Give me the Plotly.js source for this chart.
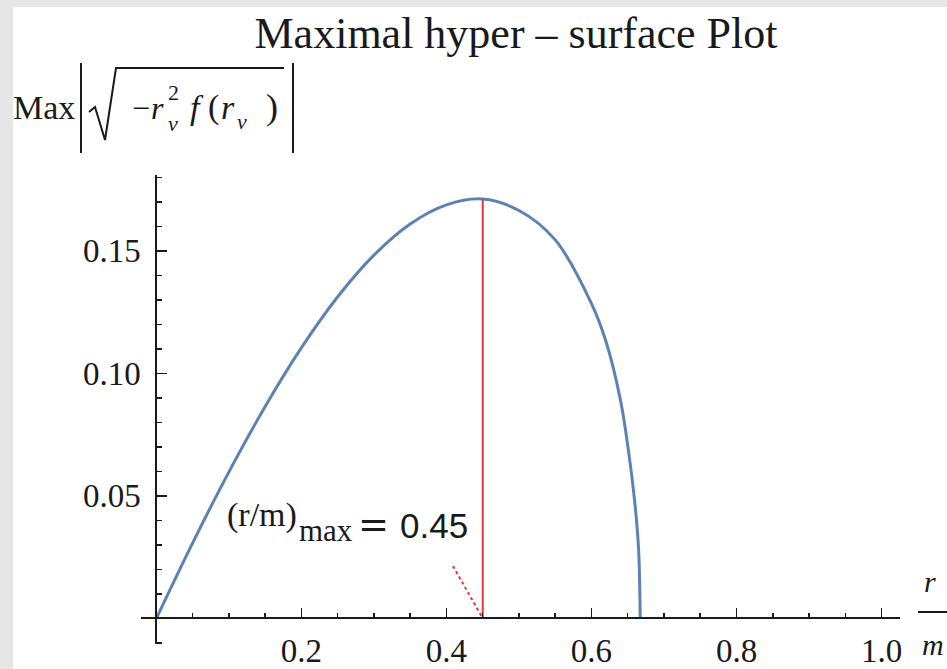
<!DOCTYPE html>
<html><head><meta charset="utf-8">
<script src="https://cdn.plot.ly/plotly-3.0.1.min.js"></script>
<style>html,body{margin:0;padding:0;background:#fff;} #chart{width:947px;height:669px;}</style>
</head><body><div id="chart"></div>
<script>
// ---- data ----
const rValues = [0, 0.05, 0.10, 0.15, 0.20, 0.25, 0.30, 0.35, 0.40, 0.45, 0.50, 0.55, 0.60, 0.62, 0.64, 0.65, 0.66, 0.665, 0.6672];
const surfaceValues = [0, 0.0308, 0.0598, 0.0865, 0.1105, 0.1313, 0.1483, 0.1610, 0.1688, 0.1712, 0.1665, 0.1545, 0.1285, 0.1130, 0.0890, 0.0705, 0.0465, 0.0280, 0];
const rMax = 0.45;
const rMaxPeak = 0.1712;
const pointerX = [0.409, 0.45];
const pointerY = [0.0213, 0];
const xTickVals = [0.2, 0.4, 0.6, 0.8, 1.0];
const xTickText = ['0.2', '0.4', '0.6', '0.8', '1.0'];
const yTickVals = [0.05, 0.10, 0.15];
const yTickText = ['0.05', '0.10', '0.15'];
const xRange = [-0.0213, 1.0255];
const yRange = [-0.0105, 0.181];

// ---- layout helpers (pixel -> paper) ----
const W = 947, H = 669, L = 141, R = 900, T = 175, B = 644;
const px = v => (v - L) / (R - L);
const py = v => (B - v) / (B - T);
const SERIF = 'Liberation Serif, Times New Roman, serif';
const SANS = 'Liberation Sans, Arial, sans-serif';
const INK = '#1a1a1a';

function txt(text, x, baseline, size, opts) {
  opts = opts || {};
  return {
    text: text, xref: 'paper', yref: 'paper',
    x: px(x), y: py(baseline - 0.34 * size),
    xanchor: opts.xanchor || 'left', yanchor: 'middle',
    showarrow: false, borderpad: 0,
    font: {family: opts.family || SERIF, size: size, color: opts.color || INK}
  };
}
function seg(x0, y0, x1, y1, w, color) {
  return {type: 'line', xref: 'paper', yref: 'paper', x0: px(x0), y0: py(y0), x1: px(x1), y1: py(y1),
    line: {color: color || INK, width: w || 2}};
}
function pathShape(pts, w) {
  const d = pts.map((p, i) => (i ? 'L' : 'M') + px(p[0]) + ',' + py(p[1])).join(' ');
  return {type: 'path', xref: 'paper', yref: 'paper', path: d, line: {color: INK, width: w || 2}};
}
function rect(x0, y0, x1, y1, color) {
  return {type: 'rect', xref: 'paper', yref: 'paper', x0: px(x0), y0: py(y0), x1: px(x1), y1: py(y1),
    line: {width: 0}, fillcolor: color, layer: 'below'};
}

const traces = [
  {x: rValues, y: surfaceValues, type: 'scatter', mode: 'lines', cliponaxis: false,
   line: {color: '#5E81B5', width: 3, shape: 'spline', smoothing: 1}},
  {x: [rMax, rMax], y: [0, rMaxPeak], type: 'scatter', mode: 'lines', cliponaxis: false,
   line: {color: '#E8343C', width: 2}},
  {x: pointerX, y: pointerY, type: 'scatter', mode: 'lines', cliponaxis: false,
   line: {color: '#E8343C', width: 2, dash: 'dot'}}
];

const axisCommon = {
  showgrid: false, zeroline: false, showline: true, linecolor: INK, linewidth: 2,
  ticks: 'inside', tickwidth: 1.5, tickcolor: INK, tickmode: 'array',
  tickfont: {family: SERIF, size: 33, color: INK}, anchor: 'free', fixedrange: true
};

const layout = {
  width: W, height: H,
  margin: {l: L, r: W - R, t: T, b: H - B, pad: 0},
  paper_bgcolor: '#ffffff', plot_bgcolor: '#ffffff',
  showlegend: false,
  title: {text: 'Maximal hyper – surface Plot', font: {family: SERIF, size: 44, color: INK},
          xref: 'container', yref: 'container', x: 516 / W, xanchor: 'center',
          y: 1 - 33 / H, yanchor: 'middle', pad: {t: 0, b: 0, l: 0, r: 0}},
  xaxis: Object.assign({}, axisCommon, {
    range: xRange, tickvals: xTickVals, ticktext: xTickText, ticklen: 9,
    position: -yRange[0] / (yRange[1] - yRange[0]), ticklabelstandoff: 3,
    minor: {tickmode: 'linear', tick0: 0, dtick: 0.05, ticks: 'inside', ticklen: 4, tickwidth: 1.5, tickcolor: INK, showgrid: false}
  }),
  yaxis: Object.assign({}, axisCommon, {
    range: yRange, tickvals: yTickVals, ticktext: yTickText, ticklen: 10, side: 'left',
    position: -xRange[0] / (xRange[1] - xRange[0]), ticklabelstandoff: 8,
    minor: {tickmode: 'linear', tick0: 0, dtick: 0.01, ticks: 'inside', ticklen: 5, tickwidth: 1.5, tickcolor: INK, showgrid: false}
  }),
  shapes: [
    rect(0, 0, W, 7, '#e6e6e6'),
    rect(0, 0, 13, H, '#e6e6e6'),
    // |sqrt(...)| of the y label
    seg(81, 63, 81, 153, 2),
    pathShape([[89, 112], [95, 107], [105, 140], [116, 68], [284, 68]], 2),
    seg(293, 63, 293, 153, 2),
    // r/m fraction bar of x label
    seg(918, 612, 948, 612, 2)
  ],
  annotations: [
    txt('Max', 12, 119, 34),
    txt('−', 131, 119, 32),
    txt('<i>r</i>', 150, 119, 32),
    txt('2', 167, 100, 22),
    txt('<i>v</i>', 167, 131, 22),
    txt('<i>f</i>', 189, 119, 34),
    txt('(', 207, 119, 34),
    txt('<i>r</i>', 220, 119, 34),
    txt('<i>v</i>', 236, 129, 22),
    txt(')', 265, 119, 36),
    // annotation (r/m)_max = 0.45
    txt('(r/m)', 226, 527, 34),
    txt('max', 298, 541, 31),
    txt('=', 357, 537, 37, {family: 'DejaVu Sans'}),
    txt('0.45', 399, 537, 35, {family: SANS}),
    // x label r/m
    txt('<i>r</i>', 930, 592, 30, {xanchor: 'center'}),
    txt('<i>m</i>', 933, 655, 30, {xanchor: 'center'})
  ]
};

Plotly.newPlot('chart', traces, layout, {displayModeBar: false, staticPlot: true});
</script>
</body></html>
